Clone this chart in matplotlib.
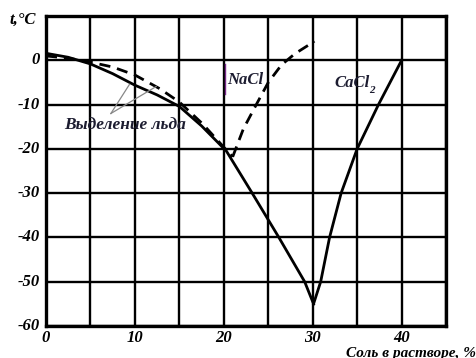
import matplotlib
matplotlib.use("Agg")
import matplotlib.pyplot as plt

# Data: salt concentration (%) vs temperature (°C)
ice_solid_x = [0, 2.5, 5, 7.5, 10, 12.5, 15, 17.5, 20.3, 23.2, 26.2, 29.1, 30.1]
ice_solid_t = [1.6, 0.7, -0.8, -3.0, -5.6, -7.8, -10.4, -14.8, -20.5, -30, -40, -50, -55]

cacl2_salt_x = [30.1, 30.9, 31.9, 33.2, 35.0, 37.4, 40.0]
cacl2_salt_t = [-55, -50, -40, -30, -20, -10, 0]

nacl_ice_x = [0, 2.5, 5, 7.5, 10, 12.8, 15, 17.6, 19.5, 21.0]
nacl_ice_t = [1.0, 0.5, -0.4, -1.5, -3.3, -6.4, -9.4, -14.3, -18.5, -21.8]

nacl_salt_x = [21.0, 22.2, 23.6, 25.0, 26.5, 28.0, 30.2]
nacl_salt_t = [-21.8, -15.5, -10.2, -5.0, -1.0, 1.5, 4.3]

x_ticks = [0, 10, 20, 30, 40]
y_ticks = [0, -10, -20, -30, -40, -50, -60]

fig = plt.figure(figsize=(4.76, 3.58), dpi=100)
ax = fig.add_axes([0.0966, 0.0894, 0.8404, 0.8656])

ax.set_xlim(0, 45)
ax.set_ylim(-60, 10)

# grid
ax.set_xticks(range(0, 46, 5))
ax.set_yticks(range(-60, 11, 10))
ax.grid(True, color="black", linewidth=1.7)
ax.set_axisbelow(True)
for s in ax.spines.values():
    s.set_linewidth(2.4)
    s.set_color("black")

ax.tick_params(length=0, pad=4)
ax.set_xticklabels([])
ax.set_yticklabels([])

fp = dict(family="Liberation Serif", style="italic", weight="bold")

for v in x_ticks:
    ax.text(v, -61.0, str(v), ha="center", va="top", fontsize=12, **fp)
for v in y_ticks:
    ax.text(-0.7, v, str(v), ha="right", va="center", fontsize=12, **fp)

fig.text(9 / 476, 1 - 20 / 358, "t,°C", ha="left", va="center", fontsize=12, **fp)
fig.text(476 / 476, 1 - 353 / 358, "Соль в растворе, %", ha="right", va="center", fontsize=11, **fp)

# curves
ax.plot(ice_solid_x, ice_solid_t, color="black", linewidth=2.0, solid_joinstyle="round")
ax.plot(cacl2_salt_x, cacl2_salt_t, color="black", linewidth=2.0, solid_joinstyle="round")
ax.plot(nacl_ice_x, nacl_ice_t, color="black", linewidth=2.0, linestyle=(0, (4, 2.5)))
ax.plot(nacl_salt_x, nacl_salt_t, color="black", linewidth=2.0, linestyle=(0, (4, 2.5)))

# labels
lab_col = "#1c1c30"
ax.text(20.4, -4.5, "NaCl", ha="left", va="center", fontsize=12, color=lab_col, **fp)
ax.plot([20.1, 20.1], [-0.8, -7.5], color="#7a2a8a", linewidth=1.0)
ax.text(32.4, -5.2, "CaCl", ha="left", va="center", fontsize=12, color=lab_col, **fp)
ax.text(36.4, -6.9, "2", ha="left", va="center", fontsize=8, color=lab_col, **fp)

ax.text(2.0, -14.5, "Выделение льда", ha="left", va="center", fontsize=12.5, color=lab_col, **fp)
ax.plot([7.3, 9.4], [-12.0, -5.4], color="#888888", linewidth=0.9)
ax.plot([7.3, 12.4], [-12.0, -5.9], color="#888888", linewidth=0.9)

fig.savefig("out.png", dpi=100)
